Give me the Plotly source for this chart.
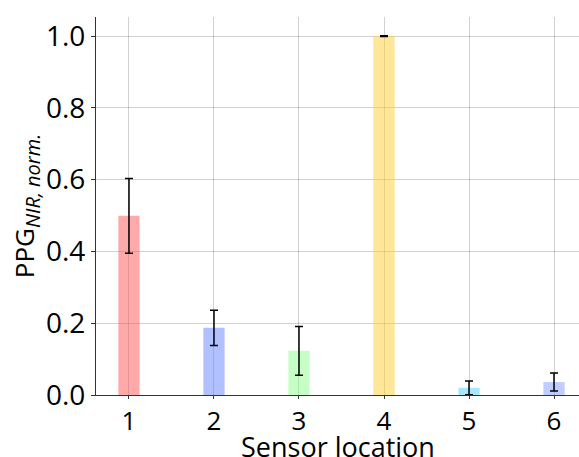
import plotly.graph_objects as go

locations = [1, 2, 3, 4, 5, 6]
values = [0.499, 0.187, 0.123, 1.0, 0.020, 0.036]
errors = [0.104, 0.049, 0.068, 0.001, 0.019, 0.025]
colors = ["rgba(255,85,85,0.5)", "rgba(100,130,255,0.5)", "rgba(140,255,140,0.5)",
          "rgba(255,205,50,0.5)", "rgba(80,210,255,0.5)", "rgba(130,155,255,0.5)"]
tick_vals_y = [0.0, 0.2, 0.4, 0.6, 0.8, 1.0]
tick_text_y = ["0.0", "0.2", "0.4", "0.6", "0.8", "1.0"]
x_title = "Sensor location"

fig = go.Figure()
fig.add_trace(go.Bar(
    x=locations, y=values, width=0.25,
    marker=dict(color=colors, line=dict(width=0)),
    error_y=dict(type="data", array=errors, visible=True, color="black", thickness=1.5, width=4),
))

font = "Open Sans"
fig.update_layout(
    width=579, height=457,
    margin=dict(l=96, r=0, t=17, b=62, autoexpand=False),
    paper_bgcolor="white", plot_bgcolor="white",
    showlegend=False,
    font=dict(family=font, color="black"),
    xaxis=dict(
        range=[0.612, 6.294], tickvals=locations, ticktext=[str(v) for v in locations],
        tickfont=dict(size=26), showgrid=True, gridcolor="rgba(0,0,0,0.18)", gridwidth=1,
        showline=True, linecolor="#333", linewidth=1.2, ticks="outside", ticklen=3,
        tickcolor="#333", zeroline=False, automargin=False,
    ),
    yaxis=dict(
        range=[0, 1.053], tickvals=tick_vals_y, ticktext=tick_text_y,
        tickfont=dict(size=28), showgrid=True, gridcolor="rgba(0,0,0,0.18)", gridwidth=1,
        showline=True, linecolor="#333", linewidth=1.2, ticks="outside", ticklen=4,
        tickcolor="#333", zeroline=False, automargin=False,
        title=dict(text="PPG<sub><i><span style='font-size:20px'>NIR, norm.</span></i></sub>",
                   font=dict(size=26), standoff=0),
    ),
    annotations=[dict(text=x_title, xref="paper", yref="paper", x=0.5, y=0,
                      xanchor="center", yanchor="top", yshift=-31, showarrow=False,
                      font=dict(size=27, family=font, color="black"))],
)
fig.write_html("out.html")
